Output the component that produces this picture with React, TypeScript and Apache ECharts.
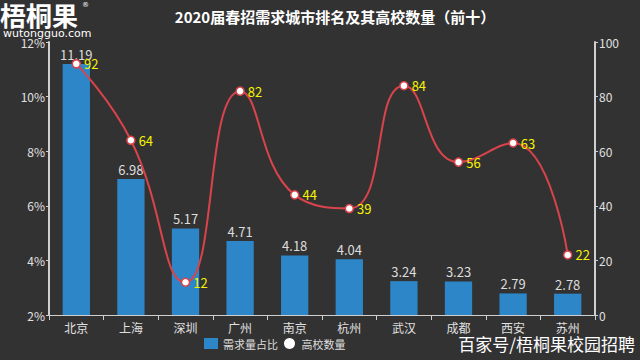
import React, { useEffect, useRef } from "react";
import * as echarts from "echarts";

const cities = ["北京", "上海", "深圳", "广州", "南京", "杭州", "武汉", "成都", "西安", "苏州"];
const demandShare = [11.19, 6.98, 5.17, 4.71, 4.18, 4.04, 3.24, 3.23, 2.79, 2.78];
const collegeCount = [92, 64, 12, 82, 44, 39, 84, 56, 63, 22];

export default function App() {
  const ref = useRef<HTMLDivElement>(null);
  useEffect(() => {
    const chart = echarts.init(ref.current!, null, { renderer: "svg" });
    const axisColor = "#cfcfcf";
    chart.setOption({
      animation: false,
      backgroundColor: "#333232",
      textStyle: { fontFamily: "Noto Sans CJK SC" },
      title: {
        text: "2020届春招需求城市排名及其高校数量（前十）",
        left: 330,
        top: 4,
        textAlign: "center",
        textStyle: { color: "#ffffff", fontSize: 15, fontWeight: "bold", fontFamily: "Noto Sans CJK SC" },
      },
      graphic: [
        {
          type: "text",
          x: 0,
          y: 14,
          style: { text: "梧桐果", fill: "#ffffff", font: "bold 26px 'Noto Sans CJK SC'", textVerticalAlign: "middle" },
        },
        {
          type: "text",
          x: 82,
          y: 1,
          style: { text: "®", fill: "#ffffff", font: "7px 'DejaVu Sans'" },
        },
        {
          type: "text",
          x: 3,
          y: 28,
          style: { text: "wutongguo.com", fill: "#ffffff", font: "11px 'DejaVu Sans'" },
        },
        {
          type: "text",
          right: 5,
          bottom: 8,
          style: { text: "百家号/梧桐果校园招聘", fill: "#ffffff", font: "17px 'Noto Sans CJK SC'" },
        },
      ],
      legend: {
        bottom: 6,
        left: 199,
        itemGap: 6,
        itemWidth: 14,
        itemHeight: 11,
        textStyle: { color: "#dddddd", fontSize: 11 },
        data: [
          { name: "需求量占比", icon: "rect" },
          { name: "高校数量", icon: "circle", itemStyle: { color: "#ffffff", borderWidth: 0 } },
        ],
      },
      grid: { left: 49, right: 45, top: 42, bottom: 45 },
      xAxis: {
        type: "category",
        data: cities,
        axisLine: { lineStyle: { color: axisColor, width: 1 } },
        axisTick: { show: true, lineStyle: { color: axisColor } },
        axisLabel: { color: "#e0e0e0", fontSize: 12, margin: 6 },
      },
      yAxis: [
        {
          type: "value",
          min: 2,
          max: 12,
          interval: 2,
          axisLine: { show: true, lineStyle: { color: axisColor, width: 2 } },
          axisTick: { show: true, length: 3, lineStyle: { color: axisColor } },
          splitLine: { show: false },
          axisLabel: { color: "#e0e0e0", fontSize: 12, formatter: "{value}%", margin: 4 },
        },
        {
          type: "value",
          min: 0,
          max: 100,
          interval: 20,
          axisLine: { show: true, lineStyle: { color: axisColor, width: 2 } },
          axisTick: { show: true, length: 3, lineStyle: { color: axisColor } },
          splitLine: { show: false },
          axisLabel: { color: "#e0e0e0", fontSize: 12, margin: 4 },
        },
      ],
      series: [
        {
          name: "需求量占比",
          type: "bar",
          data: demandShare,
          barWidth: "50%",
          itemStyle: { color: "#2d86c8" },
          label: {
            show: true,
            position: "top",
            color: "#dddddd",
            fontSize: 13,
            distance: 3,
            formatter: (p: any) => p.value.toFixed(2),
          },
        },
        {
          name: "高校数量",
          type: "line",
          yAxisIndex: 1,
          data: collegeCount,
          smooth: 0.5,
          symbol: "circle",
          symbolSize: 8,
          lineStyle: { color: "#d9444c", width: 2 },
          itemStyle: { color: "#ffffff", borderColor: "#d9444c", borderWidth: 1.5 },
          label: {
            show: true,
            position: "right",
            color: "#f5f500",
            fontSize: 13,
            distance: 3,
          },
          z: 5,
        },
      ],
    });
    return () => chart.dispose();
  }, []);
  return <div ref={ref} style={{ position: "absolute", left: 0, top: 0, width: 640, height: 360 }} />;
}
